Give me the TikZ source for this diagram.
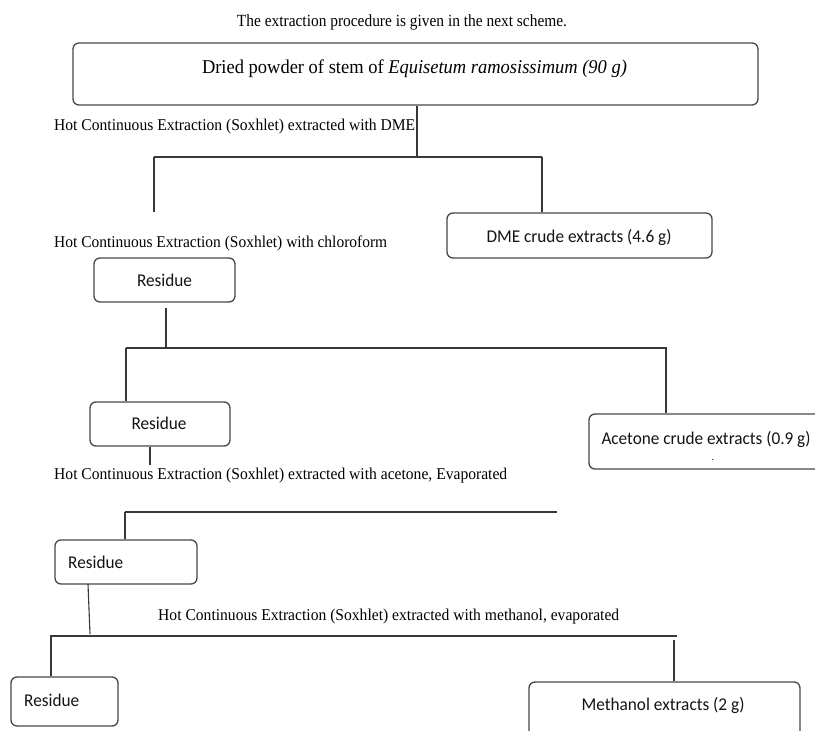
\documentclass[tikz,border=0pt]{standalone}
\usepackage{graphicx}
\usepackage{fontspec}
\setmainfont{Liberation Serif}
\newfontfamily\calfont{Carlito}
\newcommand\fitw[2]{\resizebox{#1}{\height}{#2}}
\begin{document}
\begin{tikzpicture}[x=1pt,y=-1pt,
  box/.style={draw=black!72,line width=1.3pt,rounded corners=6pt,inner sep=0pt},
  conn/.style={draw=black!78,line width=1.1pt},
  serif/.style={inner sep=0pt,font=\fontsize{16.5pt}{19pt}\selectfont,text=black},
  sans/.style={inner sep=0pt,font=\calfont\fontsize{18pt}{21pt}\selectfont,text=black!92}]
\useasboundingbox (0,0) rectangle (815,731);
\fill[white] (0,0) rectangle (815,731);

% title
\node[serif,font=\fontsize{17pt}{20pt}\selectfont] (title) at (402,22)
  {\fitw{330pt}{The extraction procedure is given in the next scheme.}};

% boxes
\node[box,minimum width=685pt,minimum height=62pt] (top) at (415.5,74) {};
\node[box,minimum width=265pt,minimum height=45pt] (dme) at (579.5,235.5) {};
\node[box,minimum width=141pt,minimum height=44pt] (r1) at (164.5,280) {};
\node[box,minimum width=140pt,minimum height=44pt] (r2) at (160,424) {};
\node[box,minimum width=234pt,minimum height=55pt] (acet) at (706,441.5) {};
\node[box,minimum width=142pt,minimum height=44pt] (r3) at (126,562) {};
\node[box,minimum width=107pt,minimum height=49pt] (r4) at (64.5,701.5) {};
\node[box,minimum width=271pt,minimum height=63pt] (meth) at (664.5,713.5) {};

% box texts
\node[serif,font=\fontsize{19.5pt}{23pt}\selectfont] (toptxt) at (414.5,69)
  {\fitw{425pt}{Dried powder of stem of \textit{Equisetum ramosissimum (90 g)}}};
\node[sans] (dmetxt) at (579,237) {\fitw{185pt}{DME crude extracts (4.6 g)}};
\node[sans] (r1txt) at (164.5,280) {\fitw{55pt}{Residue}};
\node[sans] (r2txt) at (159,423) {\fitw{55pt}{Residue}};
\node[sans] (acettxt) at (706,439) {\fitw{209pt}{Acetone crude extracts (0.9 g)}};
\node[sans,font=\calfont\fontsize{10pt}{12pt}\selectfont,anchor=base] (dot) at (713,460) {.};
\node[sans,anchor=west] (r3txt) at (68,562) {\fitw{55pt}{Residue}};
\node[sans,anchor=west] (r4txt) at (24,700) {\fitw{55pt}{Residue}};
\node[sans] (methtxt) at (663,705) {\fitw{163pt}{Methanol extracts (2 g)}};

% step labels
\node[serif,anchor=west] (lab1) at (54,127)
  {\fitw{361pt}{Hot Continuous Extraction (Soxhlet) extracted with DME}};
\node[serif,anchor=west] (lab2) at (54,243)
  {\fitw{333pt}{Hot Continuous Extraction (Soxhlet) with chloroform}};
\node[serif,anchor=west] (lab3) at (54,476)
  {\fitw{453pt}{Hot Continuous Extraction (Soxhlet) extracted with acetone, Evaporated}};
\node[serif,anchor=west] (lab4) at (158,617)
  {\fitw{461pt}{Hot Continuous Extraction (Soxhlet) extracted with methanol, evaporated}};

% connectors, level 1
\coordinate (j1) at (417,157);
\coordinate (h1L) at (154,157);
\coordinate (h1R) at (542,157);
\coordinate (h1Lend) at (154,212);
\draw[conn] (top.south -| j1) -- (j1);
\draw[conn] (h1L) -- (h1R);
\draw[conn] (h1L) -- (h1Lend);
\draw[conn] (h1R) -- (h1R |- dme.north);

% level 2
\coordinate (r1a) at (166,308);
\coordinate (r1b) at (166,348);
\coordinate (h2L) at (126,348);
\coordinate (h2R) at (667,348);
\coordinate (h2Rv) at (666,348);
\draw[conn] (r1a) -- (r1b);
\draw[conn] (h2L) -- (h2R);
\draw[conn] (h2L) -- (h2L |- r2.north);
\draw[conn] (h2Rv) -- (h2Rv |- acet.north);

% level 3
\coordinate (r2b) at (150,465);
\coordinate (h3L) at (125,512);
\coordinate (h3R) at (557,512);
\draw[conn] (r2.south -| r2b) -- (r2b);
\draw[conn] (h3L) -- (h3R);
\draw[conn] (h3L) -- (h3L |- r3.north);

% level 4
\coordinate (r3a) at (88,584);
\coordinate (r3b) at (90,634);
\coordinate (h4L) at (50,636);
\coordinate (h4R) at (677,636);
\coordinate (h4Lv) at (51,636);
\coordinate (h4Rv) at (674,640);
\draw[conn] (r3a) -- (r3b);
\draw[conn] (h4L) -- (h4R);
\draw[conn] (h4Lv) -- (h4Lv |- r4.north);
\draw[conn] (h4Rv) -- (h4Rv |- meth.north);
\end{tikzpicture}
\end{document}
